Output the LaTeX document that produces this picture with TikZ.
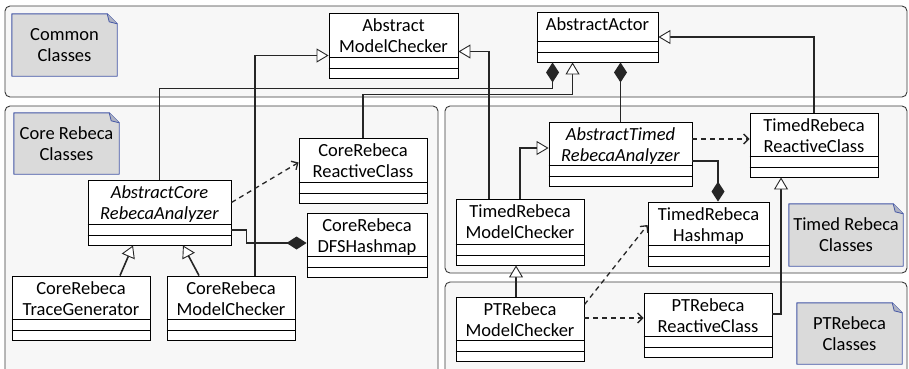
\documentclass[tikz,border=0pt]{standalone}
\usepackage{fontspec}
\setmainfont{Carlito}
\usepackage{xcolor}
\usepackage{tikz}
\usetikzlibrary{arrows.meta}

\definecolor{pkgfill}{HTML}{F7F7F7}
\definecolor{pkgline}{HTML}{3A3A3A}
\definecolor{notefill}{HTML}{DADADA}
\definecolor{noteline}{HTML}{4356A6}
\definecolor{notefold}{HTML}{AEB2C2}

\pgfdeclarelayer{pkglayer}
\pgfdeclarelayer{notelayer}
\pgfsetlayers{pkglayer,notelayer,main}

\tikzset{
    pkg/.style={draw=pkgline, fill=pkgfill, line width=0.9pt, rounded corners=5pt},
    cls/.style={draw, fill=white, line width=0.9pt, inner sep=0pt},
    clsname/.style={anchor=north, align=center, inner sep=0pt, yshift=-6pt},
    note/.style={inner sep=0pt, align=center},
    conn/.style={line width=1.6pt, draw=black!85},
    gen/.style={conn, -{Triangle[fill=white, length=12pt, width=14pt, line width=0.9pt]}},
    comp/.style={conn, -{Diamond[length=20pt, width=13pt]}},
    dep/.style={conn, line width=1.3pt, dash pattern=on 5pt off 4pt, -{Straight Barb[length=5pt, width=10pt]}},
}

\begin{document}
\begin{tikzpicture}[x=1pt, y=-1pt, font=\fontsize{18.5}{21}\selectfont]
    \useasboundingbox (0,0) rectangle (909,368);
    \clip (0,0) rectangle (909,368);

    % packages
    \begin{pgfonlayer}{pkglayer}
        \draw[pkg] (5,6) rectangle (907,97);
        \draw[pkg] (5,106) rectangle (438,380);
        \draw[pkg] (445,106) rectangle (907,273);
        \draw[pkg] (445,282) rectangle (907,380);
    \end{pgfonlayer}

    % notes
    \node[note, minimum width=105, minimum height=62] (ncommon) at (64.5,45) {Common\\Classes};
    \node[note, minimum width=105, minimum height=61] (ncore) at (66.5,143.5) {Core Rebeca\\Classes};
    \node[note, minimum width=114, minimum height=62] (ntimed) at (846,235) {Timed Rebeca\\Classes};
    \node[note, minimum width=105, minimum height=61] (npt) at (849.5,333.5) {PTRebeca\\Classes};

    \begin{pgfonlayer}{notelayer}
        \foreach \n in {ncommon,ncore,ntimed,npt}
        {
            \draw[draw=noteline, fill=notefill, line width=0.9pt, line join=round]
                (\n.south west) -- (\n.north west) -- ([xshift=-10pt]\n.north east)
                -- ([yshift=-10pt]\n.north east) -- (\n.south east) -- cycle;
            \draw[draw=noteline, fill=notefold, line width=0.8pt, line join=round]
                ([xshift=-10pt]\n.north east) -- ([xshift=-8pt, yshift=-8pt]\n.north east) -- ([yshift=-10pt]\n.north east);
        }
    \end{pgfonlayer}

    % classes
    \node[cls, minimum width=129, minimum height=65, label={[clsname]north:{Abstract\\ModelChecker}}] (amc) at (393.5,45.5) {};
    \node[cls, minimum width=121, minimum height=50, label={[clsname]north:{AbstractActor}}] (aa) at (597.5,37) {};
    \node[cls, minimum width=128, minimum height=65, label={[clsname]north:{CoreRebeca\\ReactiveClass}}] (crrc) at (363,170.5) {};
    \node[cls, minimum width=143, minimum height=65, label={[clsname]north:{\textit{AbstractCore}\\\textit{RebecaAnalyzer}}}] (acra) at (159.5,212.5) {};
    \node[cls, minimum width=120, minimum height=64, label={[clsname]north:{CoreRebeca\\DFSHashmap}}] (crdfs) at (367,245) {};
    \node[cls, minimum width=138, minimum height=64, label={[clsname]north:{CoreRebeca\\TraceGenerator}}] (crtg) at (81,308) {};
    \node[cls, minimum width=128, minimum height=64, label={[clsname]north:{CoreRebeca\\ModelChecker}}] (crmc) at (231,308) {};
    \node[cls, minimum width=143, minimum height=64, label={[clsname]north:{\textit{AbstractTimed}\\\textit{RebecaAnalyzer}}}] (atra) at (620.5,154) {};
    \node[cls, minimum width=128, minimum height=64, label={[clsname]north:{TimedRebeca\\ReactiveClass}}] (trrc) at (814,145) {};
    \node[cls, minimum width=128, minimum height=66, label={[clsname]north:{TimedRebeca\\ModelChecker}}] (trmc) at (520,232) {};
    \node[cls, minimum width=121, minimum height=64, label={[clsname]north:{TimedRebeca\\Hashmap}}] (trh) at (708.5,234) {};
    \node[cls, minimum width=128, minimum height=64, label={[clsname]north:{PTRebeca\\ModelChecker}}] (ptmc) at (520,329) {};
    \node[cls, minimum width=128, minimum height=64, label={[clsname]north:{PTRebeca\\ReactiveClass}}] (ptrc) at (708,325) {};

    \foreach \c in {amc,aa,crrc,acra,crdfs,crtg,crmc,atra,trrc,trmc,trh,ptmc,ptrc}
    {
        \draw[line width=0.9pt] ([yshift=21pt]\c.south west) -- ([yshift=21pt]\c.south east);
        \draw[line width=0.9pt] ([yshift=10pt]\c.south west) -- ([yshift=10pt]\c.south east);
    }

    % compositions
    \draw[comp] (acra.north) |- ([xshift=16pt, yshift=-26pt]aa.south west) -- ([xshift=16pt]aa.south west);
    \draw[comp] (atra.north) -- (atra.north |- aa.south);
    \draw[comp] ([yshift=-17.5pt]acra.east) -- ++(15,0) |- ([yshift=2pt]crdfs.west);
    \draw[comp] ([yshift=-7pt]atra.east) -| ([xshift=9.5pt]trh.north);

    % generalizations
    \draw[gen] (crrc.north) |- ([xshift=36pt, yshift=-32pt]aa.south west) -- ([xshift=36pt]aa.south west);
    \draw[gen] ([xshift=24pt]crmc.north) |- ([yshift=-10pt]amc.west);
    \draw[gen] ([xshift=-31pt]trmc.north) |- ([yshift=-6pt]amc.east);
    \draw[gen] (trrc.north) |- (aa.east);
    \draw[gen] ([xshift=39pt]crtg.north) -- ([xshift=-26.5pt]acra.south);
    \draw[gen] ([xshift=-32pt]crmc.north) -- ([xshift=23.5pt]acra.south);
    \draw[gen] (trmc.north) |- ([yshift=6pt]atra.west);
    \draw[gen] ([xshift=-4pt]ptmc.north) -- ([xshift=-4pt]trmc.south);
    \draw[gen] ([yshift=11pt]ptrc.east) -| ([xshift=-33pt]trrc.south);

    % dependencies
    \draw[dep] ([yshift=10pt]acra.east) -- ([yshift=8pt]crrc.west);
    \draw[dep] ([yshift=15pt]atra.east) -- ([yshift=15pt]atra.east -| trrc.west);
    \draw[dep] ([yshift=-8pt]ptmc.north east) -- ([yshift=9pt]trh.west);
    \draw[dep] ([yshift=11pt]ptmc.east) -- ([yshift=11pt]ptmc.east -| ptrc.west);
\end{tikzpicture}
\end{document}
